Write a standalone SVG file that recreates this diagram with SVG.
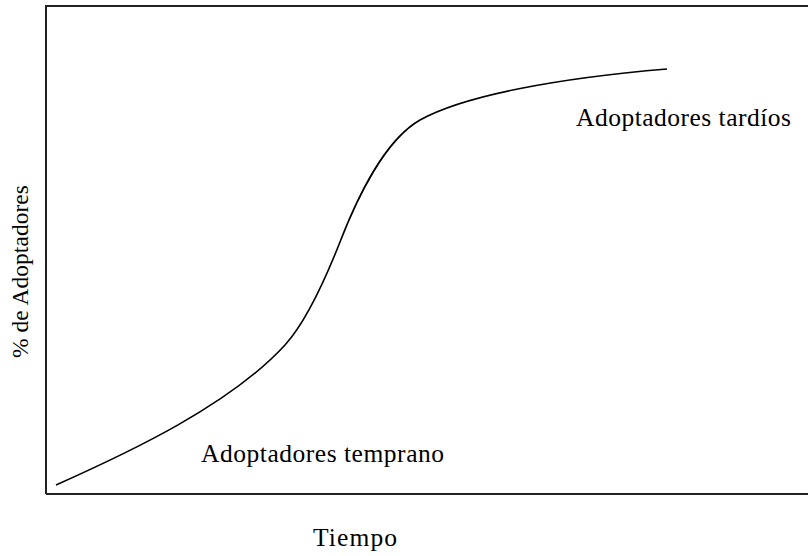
<svg xmlns="http://www.w3.org/2000/svg" width="808" height="556" viewBox="0 0 808 556">
<style>
.lbl{font-family:"Liberation Serif","Times New Roman",serif;font-size:25.5px;fill:#000}
.lbly{font-family:"Liberation Serif","Times New Roman",serif;font-size:23.5px;fill:#000}
.frame{fill:none;stroke:#222;stroke-width:2}
.curve{fill:none;stroke:#000;stroke-width:1.6}
</style>
<rect width="808" height="556" fill="#fff"/>
<g id="frame"><path class="frame" d="M46,494 V6 H809 M46,494 H809"/></g>
<g id="connectors">
<path class="curve" d="M56,485 C130,452 230,405 285,345 C305,323 325,280 340,242 C357,198 385,140 420,120 C465,95 560,78 667,69"/>
</g>
<g id="label-tardios"><text class="lbl" x="576" y="126" textLength="215" lengthAdjust="spacing">Adoptadores tardíos</text></g>
<g id="label-temprano"><text class="lbl" x="201" y="462" textLength="243" lengthAdjust="spacing">Adoptadores temprano</text></g>
<g id="label-x"><text class="lbl" x="313" y="546" textLength="84" lengthAdjust="spacing">Tiempo</text></g>
<g id="label-y"><text class="lbly" transform="translate(28,358) rotate(-90)" x="0" y="0" textLength="173" lengthAdjust="spacing">% de Adoptadores</text></g>
</svg>
